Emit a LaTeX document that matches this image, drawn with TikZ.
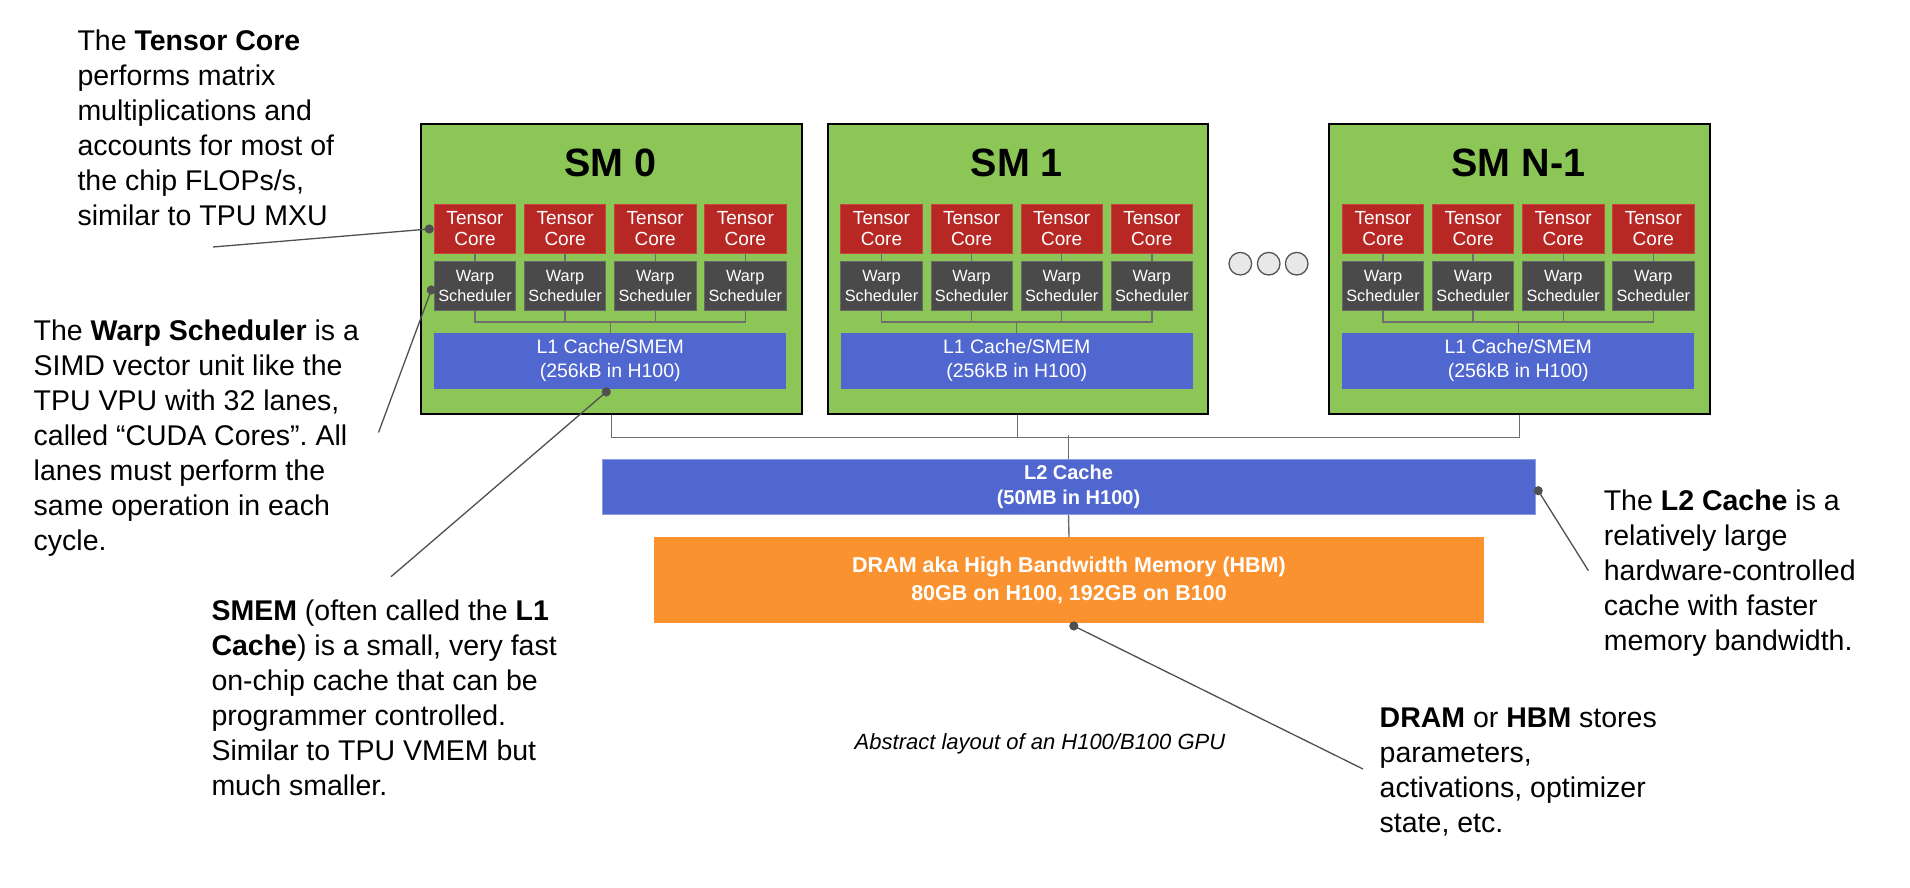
\documentclass[tikz,border=0pt]{standalone}
\usepackage{fontspec}
\setmainfont{Liberation Sans}
\usetikzlibrary{calc}
\frenchspacing
\definecolor{smgreen}{HTML}{8BC656}
\definecolor{tcred}{HTML}{B72825}
\definecolor{tcedge}{HTML}{C8443E}
\definecolor{wsgray}{HTML}{4A4A4A}
\definecolor{wsedge}{HTML}{686868}
\definecolor{cacheblue}{HTML}{4F67CE}
\definecolor{l2edge}{HTML}{8C9CE2}
\definecolor{dramorange}{HTML}{FB9230}
\definecolor{busgray}{HTML}{6E6E6E}
\definecolor{callgray}{HTML}{505050}
\definecolor{ellgray}{HTML}{555555}
\definecolor{ellfill}{HTML}{E8E8E8}
\begin{document}
\begin{tikzpicture}[x=1pt,y=-1pt,
  smbox/.style={draw=black,line width=2pt,fill=smgreen,minimum width=380.5pt,minimum height=290.3pt,inner sep=0pt,anchor=north west},
  smtitle/.style={anchor=base,inner sep=0pt,font=\fontsize{39.5}{47}\selectfont\bfseries},
  tcbox/.style={draw=tcedge,line width=0.8pt,fill=tcred,minimum width=81.4pt,minimum height=49.4pt,inner sep=0pt,text=white,align=center,font=\fontsize{19}{21}\selectfont},
  wsbox/.style={draw=wsedge,line width=0.8pt,fill=wsgray,minimum width=81.4pt,minimum height=49.4pt,inner sep=0pt,text=white,align=center,font=\fontsize{16.3}{20}\selectfont},
  l1box/.style={fill=cacheblue,minimum width=352pt,minimum height=56pt,inner sep=0pt,text=white,align=center,font=\fontsize{19.5}{24}\selectfont},
  l2box/.style={draw=l2edge,line width=0.8pt,fill=cacheblue,minimum width=933pt,minimum height=55.3pt,inner sep=0pt,text=white,align=center,font=\fontsize{20}{24.4}\selectfont\bfseries},
  drambox/.style={fill=dramorange,minimum width=830pt,minimum height=86.3pt,inner sep=0pt,text=white,align=center,font=\fontsize{21.5}{27.7}\selectfont\bfseries},
  bus/.style={draw=busgray,line width=1.4pt},
  callout/.style={draw=callgray,line width=1.3pt},
  note/.style={anchor=north west,inner sep=0pt,align=left,font=\fontsize{28.5}{35}\selectfont},
  ell/.style={circle,draw=ellgray,line width=1.3pt,fill=ellfill,minimum size=22.6pt,inner sep=0pt},
]
\fill[white] (0,0) rectangle (1910,888);
\useasboundingbox (0,0) rectangle (1910,888);

% Streaming multiprocessors
\foreach \i/\x/\t in {0/420/SM 0,1/826.5/SM 1,2/1328/SM N-1}{
  \node[smbox] (sm\i) at (\x,122.7) {};
  \node[smtitle] (smt\i) at (\x+190.25,176.7) {\t};
  \foreach \j in {0,1,2,3}{
    \node[tcbox] (tc\i\j) at (\x+55+\j*90.1,229) {Tensor\\Core};
    \node[wsbox] (ws\i\j) at (\x+55+\j*90.1,285.7) {Warp\\Scheduler};
    \draw[bus] (tc\i\j.south) -- (ws\i\j.north);
  }
  \node[l1box] (l1\i) at (\x+190.25,360.7) {L1 Cache/SMEM\\(256kB in H100)};
  \draw[bus] (ws\i0.south) -- ++(0,11.2) -| (ws\i3.south);
  \draw[bus] (ws\i1.south) -- ++(0,11.2);
  \draw[bus] (ws\i2.south) -- ++(0,11.2);
  \draw[bus] (l1\i.north) -- ++(0,-11);
}

% ellipsis
\node[ell] (e1) at (1240.3,263.7) {};
\node[ell] (e2) at (1268.7,263.7) {};
\node[ell] (e3) at (1296.7,263.7) {};

% L2 and DRAM
\node[l2box] (l2) at (1068.5,486.7) {L2 Cache\\(50MB in H100)};
\node[drambox] (dram) at (1069,580.2) {DRAM aka High Bandwidth Memory (HBM)\\80GB on H100, 192GB on B100};

\draw[bus] (sm0.south) -- ++(0,22.7) -| (sm2.south);
\draw[bus] (sm1.south) -- ++(0,22.7);
\draw[bus] (l2.north) -- ++(0,-23.2);
\draw[bus] (l2.south) -- (dram.north);

% caption
\node[anchor=base,inner sep=0pt,font=\fontsize{22}{26}\selectfont\itshape] (caption) at (1040,749) {Abstract layout of an H100/B100 GPU};

% annotations
\node[note] (tctext) at (77.3,25.5) {\strut The \textbf{Tensor Core}\\performs matrix\\multiplications and\\accounts for most of\\the chip FLOPs/s,\\similar to TPU MXU};
\node[note] (wstext) at (33.5,315.5) {\strut The \textbf{Warp Scheduler} is a\\SIMD vector unit like the\\TPU VPU with 32 lanes,\\called “CUDA Cores”. All\\lanes must perform the\\same operation in each\\cycle.};
\node[note] (smemtext) at (211.3,595.5) {\strut\textbf{SMEM} (often called the \textbf{L1}\\\textbf{Cache}) is a small, very fast\\on-chip cache that can be\\programmer controlled.\\Similar to TPU VMEM but\\much smaller.};
\node[note] (l2text) at (1603.6,486.2) {\strut The \textbf{L2 Cache} is a\\relatively large\\hardware-controlled\\cache with faster\\memory bandwidth.};
\node[note] (dramtext) at (1379.5,702.8) {\strut\textbf{DRAM} or \textbf{HBM} stores\\parameters,\\activations, optimizer\\state, etc.};

% callout connectors
\coordinate (tcdot) at ([xshift=-4.6pt]tc00.west);
\coordinate (tcend) at (213,247);
\coordinate (wsdot) at ([xshift=-2.6pt,yshift=-4.3pt]ws00.west);
\coordinate (wsend) at (378.5,432.5);
\coordinate (smemdot) at ([xshift=-4pt,yshift=-3pt]l10.south);
\coordinate (smemend) at (391,576.7);
\coordinate (l2dot) at ([xshift=2.8pt,yshift=-4pt]l2.east);
\coordinate (l2end) at (1588.4,570.7);
\coordinate (dramdot) at ([xshift=4.8pt,yshift=-2.4pt]dram.south);
\coordinate (dramend) at (1363,769);

\draw[callout] (tcend) -- (tcdot);
\draw[callout] (wsend) -- (wsdot);
\draw[callout] (smemend) -- (smemdot);
\draw[callout] (l2end) -- (l2dot);
\draw[callout] (dramend) -- (dramdot);
\foreach \d in {tcdot,wsdot,smemdot,l2dot,dramdot}{
  \fill[callgray] (\d) circle (4.6);
}
\end{tikzpicture}
\end{document}
